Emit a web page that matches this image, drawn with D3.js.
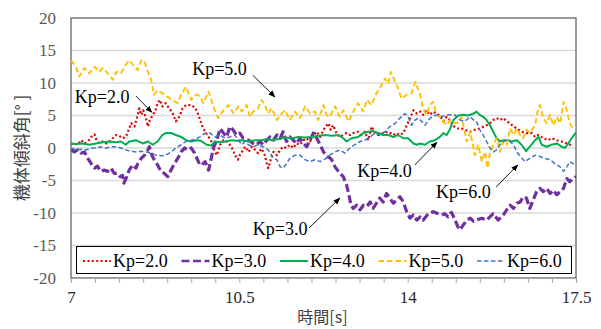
<!DOCTYPE html>
<html><head><meta charset="utf-8">
<script src="https://cdn.jsdelivr.net/npm/d3@7"></script>
<style>body{margin:0;background:#fff}svg{display:block}</style>
</head><body>
<svg id="c" width="601" height="329"></svg>
<script>
// ---- data (time [s], tilt angle [deg]) ----
const seriesNames = ["Kp=2.0","Kp=3.0","Kp=4.0","Kp=5.0","Kp=6.0"];
const xTickLabels = [7, 10.5, 14, 17.5];
const yTickLabels = [-20,-15,-10,-5,0,5,10,15,20];

const kp2 = [[7.0,0.6],[7.07,0.7],[7.14,0.5],[7.21,1.2],[7.28,0.7],[7.35,1.0],[7.42,1.7],[7.49,2.1],[7.53,1.2],[7.59,0.7],[7.66,1.0],[7.73,0.7],[7.8,1.0],[7.87,1.5],[7.94,2.0],[8.0,1.9],[8.07,1.5],[8.14,1.7],[8.21,3.0],[8.25,3.8],[8.32,3.3],[8.37,4.6],[8.42,6.1],[8.46,5.1],[8.5,5.8],[8.55,4.8],[8.6,3.3],[8.64,4.3],[8.7,5.1],[8.75,5.6],[8.8,6.9],[8.85,7.4],[8.9,6.4],[8.97,6.9],[9.04,6.1],[9.1,5.6],[9.18,4.1],[9.25,4.8],[9.32,6.1],[9.39,6.6],[9.5,6.6],[9.58,6.2],[9.65,5.1],[9.72,3.5],[9.79,2.5],[9.86,1.7],[9.92,1.0],[9.96,0.0],[10.03,-1.1],[10.1,0.5],[10.17,1.2],[10.24,1.0],[10.3,0.5],[10.37,-0.3],[10.41,-1.1],[10.47,-1.8],[10.51,-1.1],[10.58,-0.3],[10.62,0.2],[10.69,-0.6],[10.76,0.2],[10.83,-0.3],[10.89,-0.8],[10.96,-0.1],[11.03,-1.1],[11.07,-2.4],[11.1,-3.1],[11.16,-1.6],[11.21,-0.6],[11.28,-1.1],[11.35,-0.3],[11.41,0.2],[11.48,0.0],[11.55,0.5],[11.62,0.0],[11.69,0.7],[11.76,0.5],[11.83,1.2],[11.9,1.5],[11.97,1.0],[12.04,2.0],[12.11,2.5],[12.18,1.7],[12.25,2.8],[12.32,3.5],[12.35,3.8],[12.4,2.8],[12.45,3.5],[12.52,2.3],[12.59,1.7],[12.66,2.0],[12.73,2.3],[12.8,2.0],[12.87,2.3],[12.97,2.5],[13.04,2.0],[13.11,2.5],[13.18,1.2],[13.25,3.3],[13.32,2.3],[13.39,2.0],[13.49,2.3],[13.6,2.5],[13.7,2.0],[13.77,2.3],[13.84,2.0],[13.91,2.3],[13.98,3.5],[14.05,4.6],[14.12,5.8],[14.19,5.3],[14.26,5.6],[14.32,5.1],[14.39,5.8],[14.46,5.1],[14.53,5.6],[14.64,5.1],[14.7,4.6],[14.74,4.1],[14.81,4.8],[14.88,4.3],[14.95,3.4],[15.02,3.0],[15.12,3.0],[15.19,2.8],[15.3,2.5],[15.4,2.8],[15.5,3.0],[15.64,3.5],[15.71,3.8],[15.78,4.3],[15.85,4.6],[15.92,4.3],[15.99,4.6],[16.06,4.1],[16.13,3.8],[16.2,3.3],[16.27,3.0],[16.37,2.5],[16.47,2.3],[16.58,2.3],[16.65,1.7],[16.72,2.0],[16.82,1.5],[16.92,1.2],[16.99,1.5],[17.1,1.2],[17.2,1.0],[17.31,0.7],[17.37,0.5],[17.44,0.5]];

const kp3 = [[7.0,-0.3],[7.07,-0.6],[7.14,-0.3],[7.21,-0.8],[7.28,-0.6],[7.35,-1.6],[7.42,-2.4],[7.49,-3.1],[7.55,-2.8],[7.62,-3.6],[7.69,-3.4],[7.76,-3.6],[7.83,-3.1],[7.9,-3.9],[7.97,-3.9],[8.02,-4.4],[8.07,-4.2],[8.1,-5.4],[8.16,-4.4],[8.21,-3.4],[8.28,-2.6],[8.35,-3.1],[8.39,-2.4],[8.46,-1.6],[8.53,-1.1],[8.6,-0.3],[8.63,0.2],[8.68,-1.1],[8.73,-1.8],[8.8,-2.6],[8.87,-3.6],[8.94,-3.9],[9.01,-4.4],[9.08,-3.4],[9.15,-2.4],[9.22,-1.6],[9.29,-0.6],[9.36,0.0],[9.43,-0.3],[9.5,0.0],[9.57,-0.8],[9.63,-1.8],[9.68,-2.6],[9.72,-2.6],[9.79,-2.1],[9.86,-3.4],[9.91,-1.8],[9.96,0.0],[10.03,1.2],[10.1,3.0],[10.17,2.3],[10.24,1.7],[10.3,3.3],[10.37,2.8],[10.44,2.0],[10.51,2.3],[10.58,1.5],[10.69,1.2],[10.79,0.7],[10.86,0.5],[10.93,1.0],[11.0,0.5],[11.07,1.2],[11.14,1.7],[11.21,1.2],[11.28,2.0],[11.35,1.5],[11.41,2.5],[11.48,1.0],[11.55,1.7],[11.62,1.2],[11.69,0.7],[11.76,1.5],[11.83,0.7],[11.9,0.2],[11.97,1.2],[12.04,2.3],[12.11,1.5],[12.18,0.5],[12.25,-0.6],[12.32,-1.3],[12.38,-1.5],[12.42,-1.8],[12.49,-2.9],[12.56,-3.6],[12.66,-4.4],[12.73,-5.7],[12.78,-7.2],[12.82,-8.8],[12.87,-9.3],[12.94,-8.8],[13.01,-9.5],[13.08,-8.8],[13.15,-9.0],[13.22,-8.3],[13.28,-9.3],[13.35,-8.5],[13.42,-7.7],[13.49,-8.3],[13.56,-7.0],[13.63,-7.7],[13.7,-8.5],[13.77,-8.0],[13.84,-7.5],[13.91,-8.3],[13.98,-9.8],[14.05,-10.8],[14.12,-10.3],[14.19,-11.1],[14.26,-10.6],[14.32,-11.1],[14.43,-10.1],[14.53,-9.8],[14.64,-10.1],[14.71,-10.3],[14.77,-10.1],[14.84,-10.6],[14.91,-9.9],[14.98,-11.0],[15.05,-12.2],[15.09,-12.6],[15.16,-11.8],[15.23,-11.1],[15.3,-10.8],[15.37,-11.3],[15.43,-11.1],[15.54,-10.8],[15.64,-11.1],[15.71,-10.6],[15.78,-10.1],[15.88,-11.1],[15.99,-10.3],[16.06,-9.5],[16.13,-8.8],[16.2,-9.3],[16.27,-8.5],[16.34,-8.3],[16.4,-7.5],[16.47,-7.7],[16.54,-9.3],[16.61,-8.0],[16.68,-6.7],[16.75,-6.2],[16.82,-6.7],[16.89,-6.2],[16.96,-7.0],[17.03,-6.5],[17.1,-7.2],[17.17,-6.7],[17.24,-6.2],[17.31,-4.7],[17.37,-5.2],[17.44,-4.7],[17.5,-4.4]];

const kp4 = [[7.0,0.7],[7.1,0.6],[7.24,0.7],[7.38,0.5],[7.52,0.7],[7.66,0.9],[7.8,1.0],[7.94,0.9],[8.04,1.0],[8.14,0.5],[8.21,1.0],[8.35,1.2],[8.49,0.7],[8.6,1.0],[8.7,0.5],[8.8,1.0],[8.9,2.0],[8.97,2.3],[9.08,2.3],[9.18,2.0],[9.29,1.7],[9.39,1.2],[9.5,1.0],[9.6,1.2],[9.7,1.1],[9.82,0.5],[9.92,0.4],[9.99,1.0],[10.1,0.9],[10.2,1.0],[10.34,1.2],[10.44,1.1],[10.55,1.2],[10.69,1.0],[10.83,1.2],[10.96,1.2],[11.07,1.4],[11.17,1.2],[11.31,1.4],[11.45,1.6],[11.59,1.5],[11.73,1.7],[11.87,1.6],[12.0,1.7],[12.14,1.9],[12.28,2.0],[12.42,1.9],[12.56,2.0],[12.66,1.5],[12.73,1.0],[12.83,1.5],[12.97,1.7],[13.08,2.3],[13.18,2.5],[13.28,2.6],[13.39,2.3],[13.49,2.0],[13.6,2.0],[13.7,1.7],[13.8,2.0],[13.91,1.5],[14.01,1.5],[14.12,0.7],[14.19,0.5],[14.26,0.7],[14.36,0.5],[14.46,1.0],[14.57,1.2],[14.67,1.7],[14.74,2.3],[14.81,2.0],[14.88,2.9],[14.95,4.3],[15.05,5.0],[15.16,5.1],[15.26,5.0],[15.37,5.3],[15.43,5.6],[15.5,5.1],[15.57,4.8],[15.64,4.3],[15.71,3.5],[15.78,2.5],[15.85,1.5],[15.92,1.0],[15.99,1.2],[16.09,1.2],[16.16,1.0],[16.27,1.2],[16.37,0.5],[16.46,-0.5],[16.54,0.2],[16.65,1.2],[16.72,1.7],[16.79,0.5],[16.89,0.2],[16.99,0.5],[17.1,0.7],[17.2,0.2],[17.27,0.0],[17.34,0.7],[17.41,1.5],[17.5,2.4]];

const kp5 = [[7.0,13.5],[7.1,12.5],[7.17,11.0],[7.28,12.3],[7.38,11.5],[7.49,12.5],[7.59,11.7],[7.66,12.3],[7.8,11.2],[7.87,10.5],[7.94,11.7],[8.04,11.5],[8.14,12.8],[8.21,13.5],[8.32,12.5],[8.39,12.0],[8.46,13.5],[8.53,13.3],[8.6,11.7],[8.66,10.7],[8.73,8.2],[8.8,8.9],[8.9,8.4],[9.0,7.9],[9.1,7.4],[9.22,6.9],[9.29,8.2],[9.39,9.4],[9.5,7.4],[9.6,8.2],[9.68,8.0],[9.75,6.9],[9.86,8.7],[9.96,6.4],[10.06,4.6],[10.17,5.8],[10.27,6.6],[10.38,5.3],[10.48,6.4],[10.55,5.6],[10.65,6.6],[10.72,4.8],[10.79,5.6],[10.89,6.1],[10.96,7.4],[11.03,6.6],[11.1,5.3],[11.17,6.1],[11.28,4.3],[11.35,5.1],[11.45,5.8],[11.55,4.3],[11.66,5.6],[11.76,4.6],[11.87,6.4],[11.97,5.3],[12.07,5.6],[12.14,4.3],[12.25,6.6],[12.32,5.0],[12.38,4.8],[12.49,6.4],[12.59,4.8],[12.66,5.8],[12.77,4.1],[12.87,5.6],[12.97,6.9],[13.08,5.6],[13.15,7.4],[13.25,6.6],[13.35,8.4],[13.46,9.7],[13.53,10.7],[13.6,9.9],[13.65,11.7],[13.74,10.2],[13.8,9.2],[13.87,7.6],[13.98,8.2],[14.08,8.4],[14.16,10.2],[14.26,8.2],[14.32,6.1],[14.39,5.1],[14.46,6.6],[14.53,7.1],[14.6,5.1],[14.7,4.6],[14.81,3.5],[14.88,4.3],[14.98,3.8],[15.02,3.8],[15.12,4.8],[15.23,1.0],[15.3,2.5],[15.4,-1.1],[15.47,0.5],[15.54,-2.1],[15.61,-0.6],[15.66,-3.1],[15.71,-0.8],[15.78,0.5],[15.85,1.5],[15.92,-0.6],[15.99,1.0],[16.06,0.5],[16.13,3.0],[16.2,2.0],[16.27,3.0],[16.34,2.0],[16.4,1.5],[16.47,2.8],[16.54,2.3],[16.65,3.5],[16.7,5.6],[16.75,6.6],[16.82,4.6],[16.89,3.8],[16.96,5.1],[17.03,3.5],[17.1,4.8],[17.17,3.8],[17.24,7.1],[17.31,5.8],[17.37,3.8],[17.44,3.0],[17.5,3.2]];

const kp6 = [[7.0,0.0],[7.1,-0.3],[7.21,-0.2],[7.31,-0.3],[7.42,0.0],[7.52,0.0],[7.62,0.2],[7.73,0.0],[7.83,0.2],[7.94,0.2],[8.04,0.0],[8.14,-0.3],[8.25,-0.5],[8.35,-0.6],[8.46,-0.5],[8.56,-0.6],[8.66,-0.8],[8.77,-1.1],[8.87,-1.2],[8.97,-1.1],[9.08,-0.6],[9.18,0.0],[9.29,0.5],[9.39,1.0],[9.5,1.2],[9.6,1.4],[9.68,1.7],[9.79,2.3],[9.89,2.3],[9.99,1.7],[10.1,2.0],[10.2,1.5],[10.3,1.7],[10.41,2.0],[10.48,1.2],[10.55,0.5],[10.62,1.0],[10.69,0.5],[10.79,0.2],[10.89,0.5],[11.0,0.2],[11.1,-0.3],[11.21,-1.6],[11.28,-1.8],[11.35,-2.9],[11.41,-3.1],[11.48,-2.4],[11.55,-1.6],[11.66,-1.1],[11.76,-1.1],[11.87,-1.8],[11.97,-2.1],[12.07,-1.8],[12.18,-2.1],[12.28,-1.7],[12.38,-1.1],[12.49,-0.6],[12.59,-0.3],[12.7,-0.8],[12.8,0.0],[12.9,0.5],[13.01,1.0],[13.11,1.2],[13.22,1.7],[13.32,2.3],[13.42,2.0],[13.53,2.5],[13.63,3.3],[13.74,3.8],[13.84,4.6],[13.94,5.3],[14.01,4.8],[14.08,3.5],[14.15,4.3],[14.22,4.6],[14.29,4.1],[14.36,3.5],[14.43,4.3],[14.5,4.8],[14.6,5.1],[14.71,4.8],[14.81,5.1],[14.91,5.1],[14.98,5.1],[15.09,4.3],[15.19,4.1],[15.3,4.8],[15.37,4.3],[15.43,4.1],[15.5,2.8],[15.57,2.0],[15.64,1.0],[15.71,0.0],[15.78,-0.6],[15.85,-0.3],[15.92,0.5],[15.99,1.0],[16.06,1.2],[16.13,1.0],[16.2,0.5],[16.27,-0.6],[16.34,-1.3],[16.44,-2.1],[16.54,-1.6],[16.65,-1.1],[16.75,-1.3],[16.85,-1.6],[16.96,-1.8],[17.06,-2.4],[17.17,-2.9],[17.24,-3.6],[17.31,-2.9],[17.37,-2.1],[17.44,-2.4],[17.5,-2.6]];

const seriesData = [kp2, kp3, kp4, kp5, kp6];

// annotations: label position and arrow, in data units
const annoText = ["Kp=2.0","Kp=5.0","Kp=3.0","Kp=4.0","Kp=6.0"];
const annoPos  = [[7.08,6.9],[9.52,11.2],[10.78,-13.4],[12.95,-4.5],[14.59,-7.7]];
const annoArrow= [[[8.35,8.0],[8.68,5.5]],[[10.78,11.2],[11.24,7.85]],[[11.95,-12.3],[12.59,-7.7]],[[14.15,-2.6],[14.61,0.9]],[[15.84,-6.0],[16.29,-2.6]]];

// ---- styles ----
const styles = [
  {color:"#e00000", width:2.2, dash:"2 2.4"},
  {color:"#7030a0", width:3.2, dash:"8 3.5"},
  {color:"#00b050", width:2.0, dash:null},
  {color:"#ffc000", width:1.9, dash:"5.5 3"},
  {color:"#4472c4", width:1.5, dash:"4.5 2.5"}
];

const svg = d3.select("#c");
const L = 71, R = 576, T = 18, B = 278;
const x = d3.scaleLinear().domain([7, 17.5]).range([L, R]);
const y = d3.scaleLinear().domain([-20, 20]).range([B, T]);
const serif = "'Liberation Serif','Times New Roman',serif";
const jp = "'Noto Sans CJK JP','Noto Sans CJK SC',sans-serif";

// defs
const defs = svg.append("defs");
defs.append("clipPath").attr("id","clip").append("rect")
  .attr("x",L).attr("y",T).attr("width",R-L).attr("height",B-T);
defs.append("marker").attr("id","arr").attr("viewBox","0 0 10 10")
  .attr("refX",9).attr("refY",5).attr("markerWidth",7).attr("markerHeight",7)
  .attr("markerUnits","userSpaceOnUse").attr("orient","auto")
  .append("path").attr("d","M0,1 L10,5 L0,9 z").attr("fill","#000");

// gridlines
svg.append("g").selectAll("line").data(yTickLabels.filter(v => v > -20 && v < 20)).join("line")
  .attr("x1",L).attr("x2",R).attr("y1",d=>y(d)).attr("y2",d=>y(d))
  .attr("stroke","#d9d9d9").attr("stroke-width",1.3);

// plot border
svg.append("rect").attr("x",L).attr("y",T).attr("width",R-L).attr("height",B-T)
  .attr("fill","none").attr("stroke","#595959").attr("stroke-width",1.2);

// x axis
const xAxis = d3.axisBottom(x)
  .tickValues(d3.range(0, 22).map(i => 7 + i*0.5))
  .tickSize(5).tickPadding(8)
  .tickFormat(d => xTickLabels.some(v => Math.abs(v-d) < 1e-6) ? String(d) : "");
const gx = svg.append("g").attr("transform",`translate(0,${B})`).call(xAxis);
gx.select(".domain").attr("stroke","#a6a6a6").attr("stroke-width",1.2);
gx.selectAll(".tick line").attr("stroke","#a6a6a6");
gx.selectAll(".tick text").attr("font-family",serif).attr("font-size",17).attr("fill","#262626");

// y axis
const yAxis = d3.axisLeft(y).tickValues(yTickLabels).tickSize(0).tickPadding(15)
  .tickFormat(d => String(d));
const gy = svg.append("g").attr("transform",`translate(${L},0)`).call(yAxis);
gy.select(".domain").remove();
gy.selectAll(".tick text").attr("font-family",serif).attr("font-size",17).attr("fill","#595959");

// axis titles
svg.append("text").attr("x",(L+R)/2 - 1).attr("y",323)
  .attr("text-anchor","middle").attr("font-family",jp).attr("font-size",16).attr("fill","#404040")
  .text("時間[s]");
svg.append("text").attr("transform",`translate(28,${(T+B)/2}) rotate(-90)`)
  .attr("text-anchor","middle").attr("font-family",jp).attr("font-size",17).attr("fill","#404040")
  .text("機体傾斜角[° ]");

// series lines
const line = d3.line().x(d=>x(d[0])).y(d=>y(d[1]));
const gl = svg.append("g").attr("clip-path","url(#clip)");
seriesData.forEach((s,i) => {
  gl.append("path").datum(s).attr("d",line).attr("fill","none")
    .attr("stroke",styles[i].color).attr("stroke-width",styles[i].width)
    .attr("stroke-dasharray",styles[i].dash).attr("stroke-linejoin","round");
});

// annotations
const ga = svg.append("g");
annoText.forEach((t,i) => {
  ga.append("text").attr("x",x(annoPos[i][0])).attr("y",y(annoPos[i][1]))
    .attr("font-family",serif).attr("font-size",18).attr("fill","#000").text(t);
  const a = annoArrow[i];
  ga.append("line").attr("x1",x(a[0][0])).attr("y1",y(a[0][1]))
    .attr("x2",x(a[1][0])).attr("y2",y(a[1][1]))
    .attr("stroke","#000").attr("stroke-width",0.9).attr("marker-end","url(#arr)");
});

// legend
const lg = svg.append("g");
lg.append("rect").attr("x",76.5).attr("y",246.5).attr("width",495).attr("height",27)
  .attr("fill","#fff").attr("stroke","#000").attr("stroke-width",1);
seriesNames.forEach((n,i) => {
  const x0 = 83 + i*98.5;
  lg.append("line").attr("x1",x0).attr("x2",x0+28).attr("y1",261).attr("y2",261)
    .attr("stroke",styles[i].color).attr("stroke-width",Math.min(styles[i].width,2.4))
    .attr("stroke-dasharray",styles[i].dash);
  lg.append("text").attr("x",x0+30).attr("y",267).attr("font-family",serif)
    .attr("font-size",18).attr("fill","#000").text(n);
});
</script>
</body></html>
